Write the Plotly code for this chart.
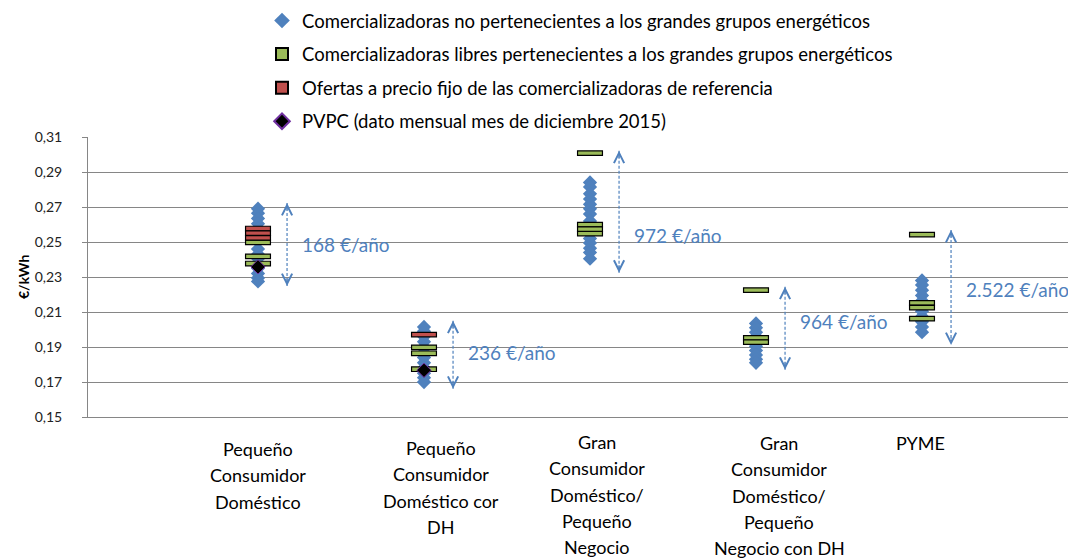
import plotly.graph_objects as go

# ---------------- data ----------------
cat_pos = [1, 2, 3, 4, 5]
cat_label_lines = [
    ["Pequeño", "Consumidor", "Doméstico"],
    ["Pequeño", "Consumidor", "Doméstico cor", "DH"],
    ["Gran", "Consumidor", "Doméstico/", "Pequeño", "Negocio"],
    ["Gran", "Consumidor", "Doméstico/", "Pequeño", "Negocio con DH"],
    ["PYME"],
]
cat_label_x = [1.0, 2.1, 3.04, 4.14, 4.99]
cat_label_top = [449, 448, 442, 443, 443]  # pixel centre of first line

legend_names = [
    "Comercializadoras no pertenecientes a los grandes grupos energéticos",
    "Comercializadoras libres pertenecientes a los grandes grupos energéticos",
    "Ofertas a precio fijo de las comercializadoras de referencia",
    "PVPC (dato mensual mes de diciembre 2015)",
]

# blue diamonds: independent retailers
indep = [
    [0.2690, 0.2665, 0.2635, 0.2605, 0.2575, 0.2545, 0.2515, 0.2460, 0.2430,
     0.2405, 0.2380, 0.2350, 0.2320, 0.2295, 0.2275],
    [0.2015, 0.1990, 0.1960, 0.1930, 0.1900, 0.1870, 0.1840, 0.1810, 0.1780,
     0.1750, 0.1725, 0.1700],
    [0.2840, 0.2815, 0.2775, 0.2745, 0.2715, 0.2690, 0.2660, 0.2620, 0.2590,
     0.2550, 0.2520, 0.2495, 0.2465, 0.2440, 0.2405],
    [0.2035, 0.2010, 0.1985, 0.1960, 0.1935, 0.1905, 0.1880, 0.1855, 0.1830,
     0.1810],
    [0.2280, 0.2255, 0.2225, 0.2195, 0.2165, 0.2135, 0.2105, 0.2075, 0.2045,
     0.2015, 0.1985],
]
# green bars: free retailers of big groups
libres = [
    [0.2498, 0.2418, 0.2377],
    [0.1898, 0.1864, 0.1773],
    [0.3008, 0.2599, 0.2573, 0.2548],
    [0.2225, 0.1952, 0.1928],
    [0.2542, 0.2152, 0.2125, 0.2062],
]
# red bars: fixed price offers of reference retailers
referencia = [
    [0.2577, 0.2551, 0.2524],
    [0.1971],
    [],
    [],
    [],
]
# PVPC
pvpc_x = [1, 2]
pvpc = [0.2358, 0.1767]

# arrows / savings labels
arrow_top = [0.2723, 0.2050, 0.3022, 0.2244, 0.2569]
arrow_bottom = [0.2249, 0.1661, 0.2325, 0.1770, 0.1911]
saving_text = ["168 €/año", "236 €/año", "972 €/año", "964 €/año", "2.522 €/año"]
saving_y = [0.2486, 0.1867, 0.2540, 0.2047, 0.2226]

y_ticks = [0.15, 0.17, 0.19, 0.21, 0.23, 0.25, 0.27, 0.29, 0.31]

# ---------------- style ----------------
FONT = "Lato, 'Open Sans', sans-serif"
BLUE = "#4F81BD"
GREEN = "#9BBB59"
RED = "#C0504D"
W, H = 1076, 558
OFF = 8                            # page body margin in the browser
AXL, AXT, AXB = 88, 137, 417       # wanted screen pixels of plot area
ML, MT = AXL - OFF, AXT - OFF
MB = H - (AXB - OFF)
MR = 0
UNIT = 166.0                       # pixels per category step
X0 = 1 - (258 - AXL) / UNIT        # data x at left edge
XR = [X0, X0 + (W - ML - MR) / UNIT]
YR = [0.15, 0.31]
BAR_H = 0.0026
BAR_W = 0.15
ARR_DX = 0.175
LBL_DX = 0.255
TXT = 18


def paper_y(py):
    return (AXB - py) / (AXB - AXT)


def paper_x(px):
    return (px - AXL) / (W - ML - MR)


fig = go.Figure()

# blue diamonds (main axes)
bx, by = [], []
for p, vals in zip(cat_pos, indep):
    bx += [p] * len(vals)
    by += vals
fig.add_trace(go.Scatter(
    x=bx, y=by, mode="markers", name=legend_names[0], legendgroup="a",
    marker=dict(symbol="diamond", size=11, color=BLUE, line=dict(width=0)),
    xaxis="x", yaxis="y"))

# dashed arrow shafts
for i, p in enumerate(cat_pos):
    fig.add_trace(go.Scatter(
        x=[p + ARR_DX, p + ARR_DX], y=[arrow_top[i], arrow_bottom[i]],
        mode="lines", line=dict(color=BLUE, width=1.2, dash="3px,2px"),
        showlegend=False, hoverinfo="skip", xaxis="x", yaxis="y"))


def bar_trace(groups, name, color, grp):
    xs, bases = [], []
    for p, vals in zip(cat_pos, groups):
        for v in vals:
            xs.append(p)
            bases.append(v - BAR_H / 2)
    return go.Bar(
        x=xs, y=[BAR_H] * len(xs), base=bases, width=BAR_W, name=name,
        legendgroup=grp, marker=dict(color=color, line=dict(color="black", width=1.2)),
        xaxis="x2", yaxis="y2")


fig.add_trace(bar_trace(libres, legend_names[1], GREEN, "b"))
fig.add_trace(bar_trace(referencia, legend_names[2], RED, "c"))

fig.add_trace(go.Scatter(
    x=pvpc_x, y=pvpc, mode="markers", name=legend_names[3], legendgroup="d",
    marker=dict(symbol="diamond", size=11, color="black",
                line=dict(color="#7030A0", width=1)),
    xaxis="x3", yaxis="y3"))

annotations = []
# arrow heads and labels
for i, p in enumerate(cat_pos):
    xa = p + ARR_DX
    annotations.append(dict(x=xa, y=arrow_top[i], xref="x", yref="y", text="",
                            showarrow=True, arrowhead=5, arrowsize=2, arrowwidth=1,
                            arrowcolor=BLUE, ax=0, ay=9))
    annotations.append(dict(x=xa, y=arrow_bottom[i], xref="x", yref="y", text="",
                            showarrow=True, arrowhead=5, arrowsize=2, arrowwidth=1,
                            arrowcolor=BLUE, ax=0, ay=-9))
    annotations.append(dict(x=p + LBL_DX, y=saving_y[i], xref="x", yref="y",
                            text=saving_text[i], showarrow=False, xanchor="left",
                            yanchor="middle", font=dict(family=FONT, size=19, color=BLUE)))

# category labels, one line per annotation
for lines, lx, top in zip(cat_label_lines, cat_label_x, cat_label_top):
    for k, ln in enumerate(lines):
        annotations.append(dict(x=lx, xref="x", y=paper_y(top + 26.3 * k), yref="paper",
                                text=ln, showarrow=False, xanchor="center",
                                yanchor="middle",
                                font=dict(family=FONT, size=TXT, color="black")))

# y axis title
annotations.append(dict(x=paper_x(23), y=paper_y(277), xref="paper", yref="paper",
                        text="<b>€/kWh</b>", textangle=-90, showarrow=False,
                        xanchor="center", yanchor="middle",
                        font=dict(family=FONT, size=14, color="black")))

fig.update_layout(
    width=W, height=H, autosize=False,
    margin=dict(l=ML, r=MR, t=MT, b=MB, autoexpand=False),
    paper_bgcolor="white", plot_bgcolor="white",
    separators=",.",
    barmode="overlay",
    font=dict(family=FONT, size=15, color="black"),
    showlegend=True,
    legend=dict(xref="paper", yref="paper", x=paper_x(262), y=paper_y(2),
                xanchor="left", yanchor="top", bgcolor="rgba(0,0,0,0)",
                font=dict(family=FONT, size=18.5, color="black"),
                traceorder="grouped", tracegroupgap=6.5, itemsizing="constant"),
    xaxis=dict(range=XR, showgrid=False, zeroline=False, showticklabels=False,
               showline=True, linecolor="#868686", linewidth=1, ticks=""),
    yaxis=dict(range=YR, tickvals=y_ticks, tickformat=".2f", showgrid=True,
               gridcolor="#868686", gridwidth=1, zeroline=False, showline=True,
               linecolor="#868686", linewidth=1, ticks="outside", ticklen=5,
               tickcolor="#868686", ticklabelstandoff=17,
               tickfont=dict(family=FONT, size=14, color="#222")),
    xaxis2=dict(range=XR, overlaying="x", anchor="y2", visible=False),
    yaxis2=dict(range=YR, overlaying="y", anchor="x2", visible=False),
    xaxis3=dict(range=XR, overlaying="x", anchor="y3", visible=False),
    yaxis3=dict(range=YR, overlaying="y", anchor="x3", visible=False),
    annotations=annotations,
)

fig.write_html("out.html")
